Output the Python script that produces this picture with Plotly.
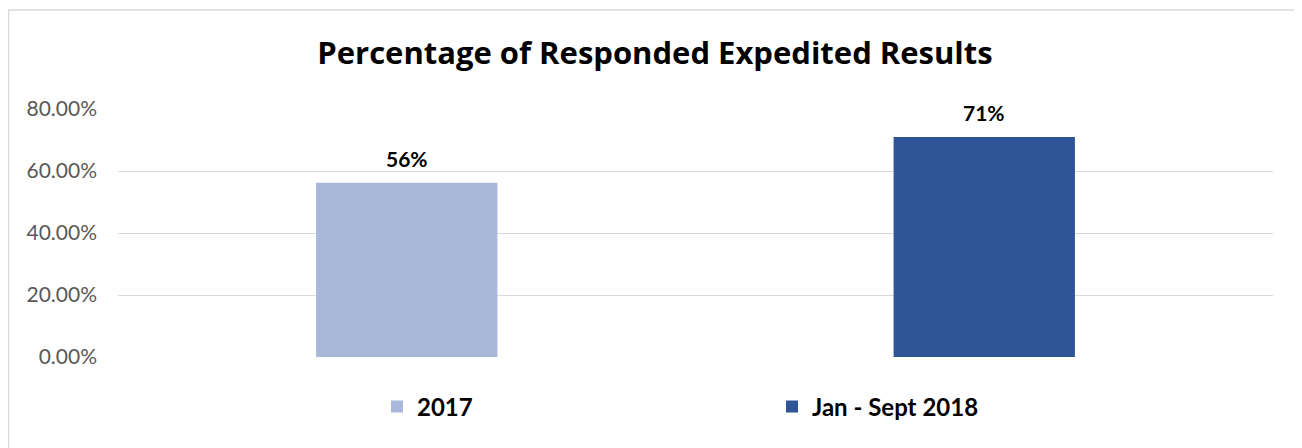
import plotly.graph_objects as go

categories = ["2017", "Jan - Sept 2018"]
values = [0.562, 0.71]
colors = ["#A9B7DA", "#2F5597"]
y_ticks = [0, 0.2, 0.4, 0.6, 0.8]

# page has an 8px body margin; figure is sized/positioned to compensate
W, H = 1294, 440
L, R, T, B = 110, 29, 101, 91
pw = W - L - R
ph = H - T - B

fig = go.Figure()
for i, (c, v, col) in enumerate(zip(categories, values, colors)):
    fig.add_trace(go.Bar(x=[c], y=[v], name=c, marker=dict(color=col, line=dict(width=0)),
                         hoverinfo="x+y"))
    # annotation x uses the category index (range coordinate of a category axis)
    fig.add_annotation(x=i, y=v, text=f"<b>{v:.0%}</b>", showarrow=False,
                       yanchor="middle", yshift=24,
                       font=dict(family="Lato", size=21, color="#000000"))

# outer chart border
fig.add_shape(type="rect", xref="paper", yref="paper",
              x0=(0.5 - L) / pw, x1=(1292.5 - L) / pw,
              y0=(H - B - 460) / ph, y1=(H - B - 2) / ph,
              line=dict(color="#D9D9D9", width=1.5), fillcolor="rgba(0,0,0,0)", layer="below")

fig.update_layout(
    width=W, height=H,
    margin=dict(l=L, r=R, t=T, b=B),
    paper_bgcolor="white", plot_bgcolor="white",
    barmode="overlay", bargap=0.686,
    title=dict(text="<b>Percentage of Responded Expedited Results</b>",
               x=647 / W, xanchor="center", y=1 - 45 / H, yanchor="middle",
               xref="container", yref="container",
               font=dict(family="Open Sans", size=31, color="#000000")),
    xaxis=dict(type="category", categoryorder="array", categoryarray=categories,
               range=[-0.5, len(categories) - 0.5],
               showticklabels=False, showgrid=False, zeroline=False,
               showline=False, ticks=""),
    yaxis=dict(range=[0, 0.8], tickvals=y_ticks, tickformat=".2%",
               showgrid=True, gridcolor="#D9D9D9", gridwidth=1, zeroline=False,
               showline=False, ticks="", ticklabelstandoff=20,
               tickfont=dict(family="Lato", size=21, color="#595959")),
    showlegend=True,
    legend=dict(orientation="h", x=(369 - L) / pw, xanchor="left",
                y=-(399 - (H - B)) / ph, yanchor="middle",
                entrywidth=350, entrywidthmode="pixels",
                font=dict(family="Lato", size=24, color="#000000", weight="bold"),
                bgcolor="rgba(0,0,0,0)", traceorder="normal"),
)

fig.write_html("out.html")
